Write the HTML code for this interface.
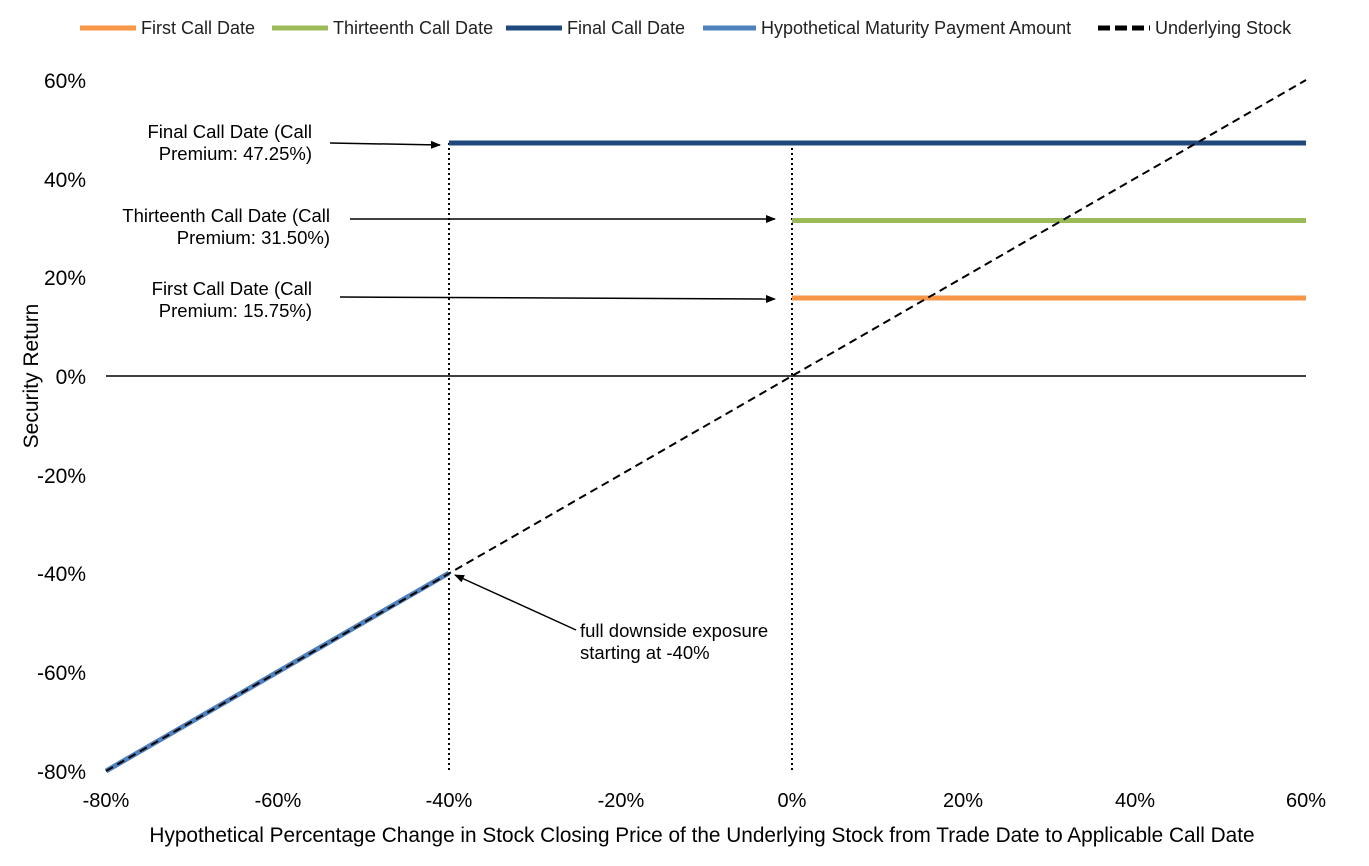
<!DOCTYPE html>
<html><head><meta charset="utf-8"><style>
body{margin:0;background:#fff;}
svg{display:block;font-family:"Liberation Sans",Arial,sans-serif;}
</style></head><body>
<svg width="1369" height="866" viewBox="0 0 1369 866" xmlns="http://www.w3.org/2000/svg">
<defs><marker id="ah" markerWidth="10" markerHeight="8" refX="9" refY="4" orient="auto" markerUnits="userSpaceOnUse"><path d="M0,0 L10,4 L0,8 z" fill="#000"/></marker></defs>
<g font-size="18" fill="#222">
<line x1="80" y1="28" x2="136" y2="28" stroke="#f79646" stroke-width="5"/><text x="141" y="34">First Call Date</text>
<line x1="272" y1="28" x2="328" y2="28" stroke="#9bbb59" stroke-width="5"/><text x="333" y="34">Thirteenth Call Date</text>
<line x1="506" y1="28" x2="562" y2="28" stroke="#1f497d" stroke-width="5"/><text x="567" y="34">Final Call Date</text>
<line x1="703" y1="28" x2="756" y2="28" stroke="#4f81bd" stroke-width="5"/><text x="761" y="34">Hypothetical Maturity Payment Amount</text>
<line x1="1098" y1="28" x2="1150" y2="28" stroke="#000" stroke-width="5" stroke-dasharray="12,5"/><text x="1155" y="34">Underlying Stock</text>
</g>
<g font-size="21" fill="#000" text-anchor="end">
<text x="86" y="88">60%</text><text x="86" y="187">40%</text><text x="86" y="285">20%</text><text x="86" y="384">0%</text>
<text x="86" y="483">-20%</text><text x="86" y="581">-40%</text><text x="86" y="680">-60%</text><text x="86" y="779">-80%</text>
</g>
<g font-size="20" fill="#000" text-anchor="middle">
<text x="106" y="807">-80%</text><text x="278" y="807">-60%</text><text x="449" y="807">-40%</text><text x="621" y="807">-20%</text>
<text x="792" y="807">0%</text><text x="963" y="807">20%</text><text x="1135" y="807">40%</text><text x="1306" y="807">60%</text>
</g>
<text x="38" y="376" font-size="21" text-anchor="middle" transform="rotate(-90 38 376)">Security Return</text>
<text x="702" y="842" font-size="20.8" text-anchor="middle">Hypothetical Percentage Change in Stock Closing Price of the Underlying Stock from Trade Date to Applicable Call Date</text>
<line x1="106" y1="376" x2="1306" y2="376" stroke="#000" stroke-width="1.5"/>
<line x1="449" y1="143" x2="449" y2="771" stroke="#000" stroke-width="2" stroke-dasharray="2,3"/>
<line x1="792" y1="143" x2="792" y2="771" stroke="#000" stroke-width="2" stroke-dasharray="2,3"/>
<line x1="449" y1="143" x2="1306" y2="143" stroke="#1f497d" stroke-width="5"/>
<line x1="792" y1="220.5" x2="1306" y2="220.5" stroke="#9bbb59" stroke-width="5"/>
<line x1="792" y1="298" x2="1306" y2="298" stroke="#f79646" stroke-width="5"/>
<line x1="106" y1="771" x2="449" y2="573" stroke="#4f81bd" stroke-width="5"/>
<line x1="106" y1="771" x2="1306" y2="80" stroke="#000" stroke-width="2" stroke-dasharray="8,5"/>
<g font-size="18.5" fill="#000">
<text x="312" y="138" text-anchor="end">Final Call Date (Call</text><text x="312" y="160" text-anchor="end">Premium: 47.25%)</text>
<text x="330" y="222" text-anchor="end">Thirteenth Call Date (Call</text><text x="330" y="244" text-anchor="end">Premium: 31.50%)</text>
<text x="312" y="295" text-anchor="end">First Call Date (Call</text><text x="312" y="317" text-anchor="end">Premium: 15.75%)</text>
<text x="580" y="637">full downside exposure</text><text x="580" y="659">starting at -40%</text>
</g>
<g stroke="#000" stroke-width="1.5">
<line x1="330" y1="143" x2="440" y2="145" marker-end="url(#ah)"/>
<line x1="350" y1="219" x2="775" y2="219" marker-end="url(#ah)"/>
<line x1="340" y1="297" x2="775" y2="299" marker-end="url(#ah)"/>
<line x1="576" y1="630" x2="455" y2="575" marker-end="url(#ah)"/>
</g>
</svg>
</body></html>
